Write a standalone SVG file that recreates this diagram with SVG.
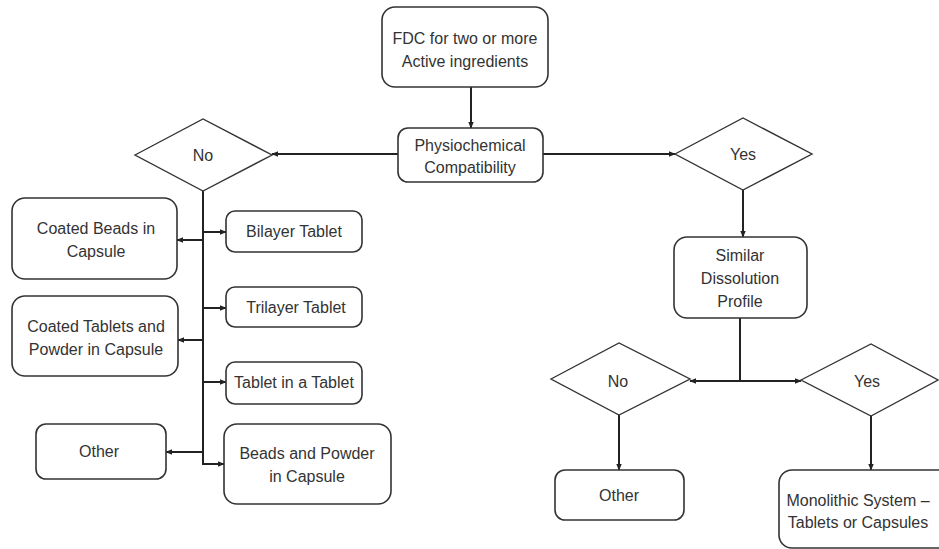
<svg xmlns="http://www.w3.org/2000/svg" width="939" height="549" viewBox="0 0 939 549">
<defs>
<marker id="ah" viewBox="0 0 10 10" refX="9" refY="5" markerWidth="7" markerHeight="7" orient="auto" markerUnits="userSpaceOnUse">
<path d="M0,1 L10,5 L0,9 z" fill="#222"/>
</marker>
<style>
.box{fill:#fff;stroke:#333;stroke-width:1.6}
.dia{fill:#fff;stroke:#333;stroke-width:1.4}
.t{font-family:"Liberation Sans",Arial,sans-serif;font-size:16px;fill:#333;text-anchor:middle}
.c{fill:none;stroke:#222;stroke-width:2}
.ca{fill:none;stroke:#222;stroke-width:2;marker-end:url(#ah)}
</style>
</defs>
<rect width="939" height="549" fill="#fff"/>
<g id="connectors">
<path class="ca" d="M471,87 V128"/>
<path class="ca" d="M398,154 H272"/>
<path class="ca" d="M543,154 H675"/>
<path class="c" d="M203,191 V465"/>
<path class="ca" d="M203,240 H177"/>
<path class="ca" d="M203,232 H226"/>
<path class="ca" d="M203,308 H226"/>
<path class="ca" d="M203,340 H178"/>
<path class="ca" d="M203,382 H226"/>
<path class="ca" d="M203,452 H166"/>
<path class="ca" d="M203,464 H224"/>
<path class="ca" d="M743,190 V237"/>
<path class="c" d="M740,318 V381"/>
<path class="ca" d="M740,381 H690"/>
<path class="ca" d="M740,381 H801"/>
<path class="ca" d="M619,415 V470"/>
<path class="ca" d="M871,416 V470"/>
</g>
<g id="fdc">
<rect class="box" x="382" y="7" width="166" height="80" rx="13"/>
<text class="t" x="465" y="44">FDC for two or more</text>
<text class="t" x="465" y="67">Active ingredients</text>
</g>
<g id="physio">
<rect class="box" x="398" y="128" width="145" height="54" rx="10"/>
<text class="t" x="470" y="151">Physiochemical</text>
<text class="t" x="470" y="173">Compatibility</text>
</g>
<g id="no1">
<path class="dia" d="M135,155 L203,119 L272,155 L203,191 Z"/>
<text class="t" x="203" y="161">No</text>
</g>
<g id="yes1">
<path class="dia" d="M675,154 L743,118 L812,154 L743,190 Z"/>
<text class="t" x="743" y="160">Yes</text>
</g>
<g id="coatedBeads">
<rect class="box" x="12" y="198" width="165" height="81" rx="13"/>
<text class="t" x="96" y="234">Coated Beads in</text>
<text class="t" x="96" y="257">Capsule</text>
</g>
<g id="bilayer">
<rect class="box" x="226" y="211" width="136" height="41" rx="9"/>
<text class="t" x="294" y="237">Bilayer Tablet</text>
</g>
<g id="trilayer">
<rect class="box" x="226" y="287" width="136" height="40" rx="9"/>
<text class="t" x="296" y="313">Trilayer Tablet</text>
</g>
<g id="coatedTablets">
<rect class="box" x="12" y="296" width="166" height="80" rx="13"/>
<text class="t" x="96" y="332">Coated Tablets and</text>
<text class="t" x="96" y="355">Powder in Capsule</text>
</g>
<g id="tabletInTablet">
<rect class="box" x="226" y="362" width="136" height="42" rx="9"/>
<text class="t" x="294" y="388">Tablet in a Tablet</text>
</g>
<g id="otherLeft">
<rect class="box" x="36" y="424" width="130" height="55" rx="10"/>
<text class="t" x="99" y="457">Other</text>
</g>
<g id="beadsPowder">
<rect class="box" x="224" y="424" width="167" height="80" rx="13"/>
<text class="t" x="307" y="459">Beads and Powder</text>
<text class="t" x="307" y="482">in Capsule</text>
</g>
<g id="similar">
<rect class="box" x="674" y="237" width="133" height="81" rx="13"/>
<text class="t" x="740" y="261">Similar</text>
<text class="t" x="740" y="284">Dissolution</text>
<text class="t" x="740" y="307">Profile</text>
</g>
<g id="no2">
<path class="dia" d="M551,379 L619,343 L690,379 L619,415 Z"/>
<text class="t" x="618" y="387">No</text>
</g>
<g id="yes2">
<path class="dia" d="M801,380 L871,344 L938,380 L871,416 Z"/>
<text class="t" x="867" y="387">Yes</text>
</g>
<g id="otherRight">
<rect class="box" x="555" y="470" width="129" height="50" rx="10"/>
<text class="t" x="619" y="501">Other</text>
</g>
<g id="monolithic">
<rect class="box" x="779" y="470" width="175" height="78" rx="13"/>
<text class="t" x="858" y="506">Monolithic System –</text>
<text class="t" x="858" y="528">Tablets or Capsules</text>
</g>
</svg>
